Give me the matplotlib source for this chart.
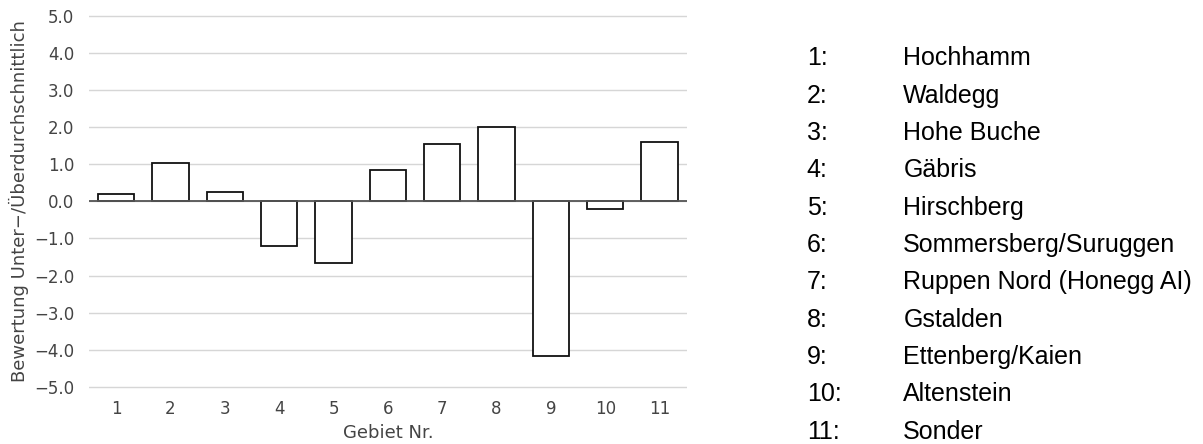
import matplotlib
matplotlib.use("Agg")
import matplotlib.pyplot as plt
import numpy as np

gebiete = [1, 2, 3, 4, 5, 6, 7, 8, 9, 10, 11]
werte = [0.20, 1.02, 0.25, -1.19, -1.66, 0.85, 1.55, 2.01, -4.17, -0.20, 1.59]
namen = ["Hochhamm", "Waldegg", "Hohe Buche", "Gäbris", "Hirschberg",
         "Sommersberg/Suruggen", "Ruppen Nord (Honegg AI)", "Gstalden",
         "Ettenberg/Kaien", "Altenstein", "Sonder"]
yticks = [5, 4, 3, 2, 1, 0, -1, -2, -3, -4, -5]

plt.rcParams['font.family'] = ['DejaVu Sans']

W, H = 1203, 444
fig = plt.figure(figsize=(W / 100, H / 100), dpi=100)
ax = fig.add_axes([89 / W, 1 - 390.7 / H, (686.7 - 89) / W, 378.7 / H])

ax.bar(gebiete, werte, width=0.67, facecolor="white", edgecolor="#111111",
       linewidth=1.3, zorder=3)
ax.set_xlim(0.5, 11.5)
ax.set_ylim(-5.1, 5.1)
ax.set_yticks(yticks)
ax.set_yticklabels([f"{v:.1f}".replace("-", "\u2212") for v in yticks])
ax.set_xticks(gebiete)
ax.set_xticklabels([str(g) for g in gebiete])
for s in ax.spines.values():
    s.set_visible(False)
ax.grid(axis="y", color="#d6d6d6", linewidth=1.0, zorder=0)
ax.axhline(0, color="#555555", linewidth=1.3, zorder=4)
ax.tick_params(axis="both", length=0, labelsize=12, labelcolor="#444444")
ax.tick_params(axis="y", pad=10.5)
ax.tick_params(axis="x", pad=7)
ax.set_xlabel("Gebiet Nr.", fontsize=13, color="#444444", labelpad=4)
ax.set_ylabel("Bewertung Unter\u2212/Überdurchschnittlich", fontsize=13,
              color="#444444", labelpad=4)

y0, y1 = 58.3, 431.7
for i, (g, n) in enumerate(zip(gebiete, namen)):
    yp = y0 + i * (y1 - y0) / 10
    fig.text(806.7 / W, 1 - yp / H, f"{g}:", family="Liberation Sans",
             fontsize=18, va="center", ha="left", color="black")
    fig.text(903.3 / W, 1 - yp / H, n, family="Liberation Sans",
             fontsize=18, va="center", ha="left", color="black")

fig.savefig("out.png", dpi=100, facecolor="white")
